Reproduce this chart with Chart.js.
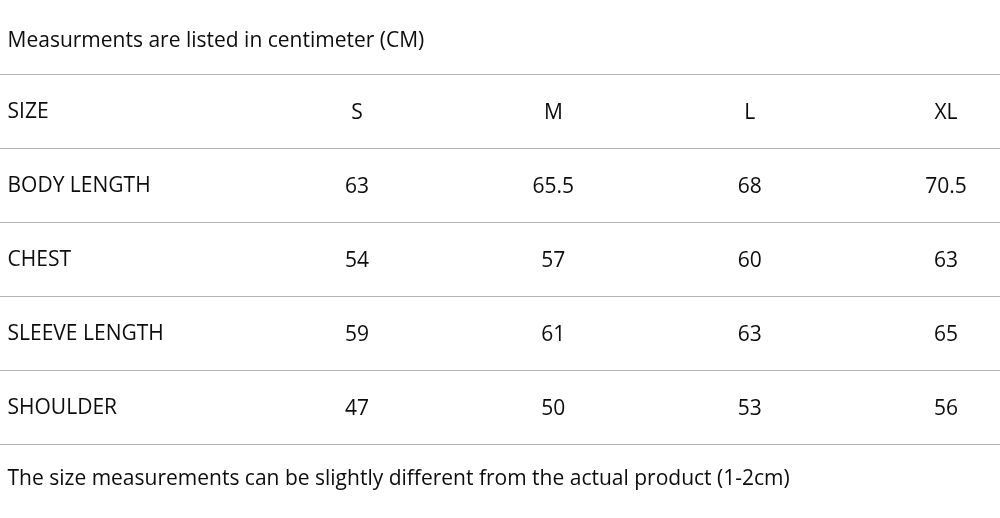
<!DOCTYPE html>
<html>
<head>
<meta charset="utf-8">
<script src="https://cdn.jsdelivr.net/npm/chart.js@4.4.1/dist/chart.umd.min.js"></script>
<style>
  html, body { margin: 0; padding: 0; background: #fff; }
  #wrap { width: 1000px; height: 518px; position: relative; }
</style>
</head>
<body>
<div id="wrap"><canvas id="sizeChart"></canvas></div>
<script>
  // table content
  const titleText = 'Measurments are listed in centimeter (CM)';
  const footerText = 'The size measurements can be slightly different from the actual product (1-2cm)';
  const rowLabels = ['SIZE', 'BODY LENGTH', 'CHEST', 'SLEEVE LENGTH', 'SHOULDER'];
  const sizes = ['S', 'M', 'L', 'XL'];
  const bodyLength = [63, 65.5, 68, 70.5];
  const chest = [54, 57, 60, 63];
  const sleeveLength = [59, 61, 63, 65];
  const shoulder = [47, 50, 53, 56];

  const rows = [sizes, bodyLength, chest, sleeveLength, shoulder];
  const labelCol = -0.78;
  const fontFamily = '"Open Sans", sans-serif';

  // one dataset per table row, x = column, y = row
  const datasets = rows.map((vals, r) => ({
    label: rowLabels[r],
    data: [{ x: labelCol, y: r, text: rowLabels[r], align: 'left' }].concat(
      vals.map((v, c) => ({ x: c + 1, y: r, text: String(v), align: 'center' }))
    ),
    pointRadius: 0,
    pointHoverRadius: 0
  }));

  const cellText = {
    id: 'cellText',
    afterDatasetsDraw(chart) {
      const ctx = chart.ctx;
      const xs = chart.scales.x;
      const ys = chart.scales.y;
      ctx.save();
      ctx.fillStyle = '#0d0d0d';
      ctx.font = '21px ' + fontFamily;
      ctx.textBaseline = 'middle';
      chart.data.datasets.forEach((ds, i) => {
        const meta = chart.getDatasetMeta(i);
        meta.data.forEach((pt, j) => {
          const d = ds.data[j];
          ctx.textAlign = d.align;
          ctx.fillText(d.text, pt.x, d.align === 'left' ? pt.y : pt.y + 1);
        });
      });
      // heading and note outside the ruled rows
      ctx.textAlign = 'left';
      ctx.fillText(titleText, xs.getPixelForValue(labelCol), ys.getPixelForValue(-0.955));
      ctx.fillText(footerText, xs.getPixelForValue(labelCol), ys.getPixelForValue(4.955));
      ctx.restore();
    }
  };

  const sizeChart = new Chart(document.getElementById('sizeChart'), {
    type: 'scatter',
    data: { datasets: datasets },
    options: {
      responsive: true,
      maintainAspectRatio: false,
      animation: false,
      layout: { padding: 0 },
      plugins: {
        legend: { display: false },
        tooltip: { enabled: false }
      },
      scales: {
        x: {
          type: 'linear',
          min: -0.8184,
          max: 4.275,
          ticks: { display: false },
          grid: { display: false, drawTicks: false },
          border: { display: false }
        },
        y: {
          type: 'linear',
          reverse: true,
          min: -1.5135,
          max: 5.4865,
          afterBuildTicks: (scale) => {
            scale.ticks = [-0.5, 0.5, 1.5, 2.5, 3.5, 4.5].map(v => ({ value: v }));
          },
          ticks: { display: false },
          grid: { color: '#b4b4b4', lineWidth: 1, drawTicks: false },
          border: { display: false }
        }
      }
    },
    plugins: [cellText]
  });
</script>
</body>
</html>
